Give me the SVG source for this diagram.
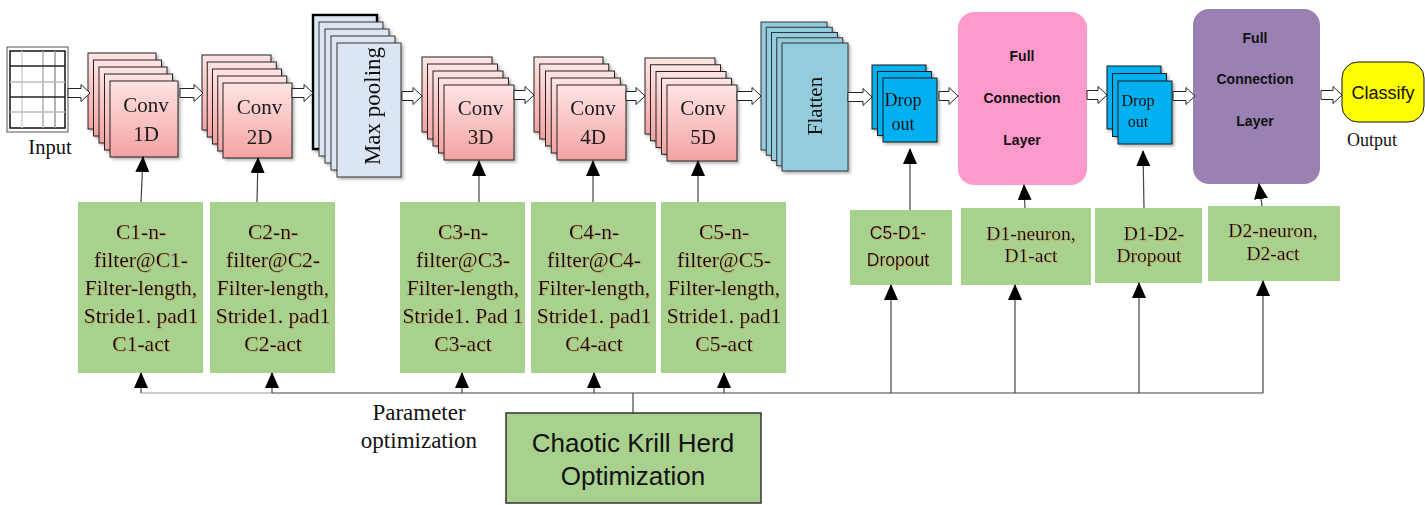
<svg xmlns="http://www.w3.org/2000/svg" width="1425" height="505" viewBox="0 0 1425 505">
<defs>
<linearGradient id="pink" x1="0" y1="0" x2="0" y2="1">
<stop offset="0" stop-color="#ffe4e4"/>
<stop offset="1" stop-color="#f4a2a2"/>
</linearGradient>
<filter id="sh" x="-10%" y="-10%" width="130%" height="130%">
<feDropShadow dx="2" dy="2" stdDeviation="1.5" flood-color="#000" flood-opacity="0.3"/>
</filter>
<filter id="ts" x="-5%" y="-20%" width="115%" height="150%">
<feDropShadow dx="0.8" dy="0.8" stdDeviation="0.4" flood-color="#c8954f" flood-opacity="0.85"/>
</filter>
<marker id="ah" markerUnits="userSpaceOnUse" markerWidth="16" markerHeight="14" refX="15" refY="7" orient="auto" viewBox="0 0 16 14">
<path d="M0,0 L16,7 L0,14 Z" fill="#000"/>
</marker>
<style>
.conv{fill:url(#pink);stroke:#222;stroke-width:1}
.mp{fill:#dce6f2;stroke:#333;stroke-width:1}
.fl{fill:#93cddd;stroke:#333;stroke-width:1}
.dr{fill:#00b0f0;stroke:#1a1a1a;stroke-width:1}
.green{fill:#a9d18e}
.blk{fill:#fff;stroke:#222;stroke-width:1}
.ln{stroke:#444;stroke-width:1.2;fill:none}
.up{stroke:#444;stroke-width:1.2;fill:none;marker-end:url(#ah)}
.serif{font-family:"Liberation Serif","Times New Roman",serif;fill:#111}
.sans{font-family:"Liberation Sans",Arial,sans-serif;fill:#111}
.gt{font-family:"Liberation Serif","Times New Roman",serif;font-size:21.5px;fill:#111;text-anchor:middle;filter:url(#ts)}
.ct{font-family:"Liberation Serif","Times New Roman",serif;font-size:21px;fill:#1a1a1a;text-anchor:middle}
.fc{font-family:"Liberation Sans",Arial,sans-serif;font-size:14px;font-weight:bold;fill:#111;text-anchor:middle}
</style>
</defs>
<rect width="1425" height="505" fill="#fff"/>

<g id="input">
<rect x="7" y="47" width="61" height="85" fill="#fff" stroke="#555" stroke-width="1"/>
<rect x="10" y="51" width="55" height="77" fill="#fff" stroke="#111" stroke-width="1.5"/>
<line x1="22" y1="51" x2="22" y2="128" stroke="#d0d0d0" stroke-width="1.5"/>
<line x1="43" y1="51" x2="43" y2="128" stroke="#b0b0b0" stroke-width="1.5"/>
<line x1="55" y1="51" x2="55" y2="128" stroke="#999" stroke-width="1.5"/>
<line x1="10" y1="66" x2="65" y2="66" stroke="#222" stroke-width="1.5"/>
<line x1="10" y1="82" x2="65" y2="82" stroke="#bbb" stroke-width="1.5"/>
<line x1="10" y1="97" x2="65" y2="97" stroke="#222" stroke-width="1.5"/>
<line x1="10" y1="112" x2="65" y2="112" stroke="#bbb" stroke-width="1.5"/>
<text class="serif" x="50" y="154" font-size="20.5" text-anchor="middle">Input</text>
</g>

<g id="conv1" filter="url(#sh)">
<rect class="conv" x="88" y="53" width="68" height="76"/>
<rect class="conv" x="93.5" y="60" width="68" height="76"/>
<rect class="conv" x="99" y="67" width="68" height="76"/>
<rect class="conv" x="104.5" y="74" width="68" height="76"/>
<rect class="conv" x="110" y="81" width="68" height="76"/>
<text class="ct" x="146" y="112">Conv</text>
<text class="ct" x="146" y="141">1D</text>
</g>

<g id="conv2" filter="url(#sh)">
<rect class="conv" x="202" y="55" width="69" height="75"/>
<rect class="conv" x="207.25" y="62" width="69" height="75"/>
<rect class="conv" x="212.5" y="69" width="69" height="75"/>
<rect class="conv" x="217.75" y="76" width="69" height="75"/>
<rect class="conv" x="223" y="83" width="69" height="75"/>
<text class="ct" x="259.5" y="114">Conv</text>
<text class="ct" x="259.5" y="144">2D</text>
</g>

<g id="maxpool" filter="url(#sh)">
<rect class="mp" x="313" y="15" width="64" height="134" style="stroke:#000;stroke-width:2.4"/>
<rect class="mp" x="319" y="22" width="64" height="134"/>
<rect class="mp" x="325" y="29" width="64" height="134"/>
<rect class="mp" x="331" y="36" width="64" height="134"/>
<rect class="mp" x="337" y="43" width="64" height="134"/>
<text class="serif" font-size="23" text-anchor="middle" transform="translate(380,106) rotate(-90)">Max pooling</text>
</g>

<g id="conv3" filter="url(#sh)">
<rect class="conv" x="422" y="57" width="70" height="75"/>
<rect class="conv" x="427.5" y="64" width="70" height="75"/>
<rect class="conv" x="433" y="71" width="70" height="75"/>
<rect class="conv" x="438.5" y="78" width="70" height="75"/>
<rect class="conv" x="444" y="85" width="70" height="75"/>
<text class="ct" x="480.5" y="115">Conv</text>
<text class="ct" x="480.5" y="144">3D</text>
</g>

<g id="conv4" filter="url(#sh)">
<rect class="conv" x="534" y="57" width="69" height="75"/>
<rect class="conv" x="539.75" y="64" width="69" height="75"/>
<rect class="conv" x="545.5" y="71" width="69" height="75"/>
<rect class="conv" x="551.25" y="78" width="69" height="75"/>
<rect class="conv" x="557" y="85" width="69" height="75"/>
<text class="ct" x="593" y="115">Conv</text>
<text class="ct" x="593" y="144">4D</text>
</g>

<g id="conv5" filter="url(#sh)">
<rect class="conv" x="645" y="58" width="70" height="76"/>
<rect class="conv" x="650.5" y="64.75" width="70" height="76"/>
<rect class="conv" x="656" y="71.5" width="70" height="76"/>
<rect class="conv" x="661.5" y="78.25" width="70" height="76"/>
<rect class="conv" x="667" y="85" width="70" height="76"/>
<text class="ct" x="703" y="115">Conv</text>
<text class="ct" x="703" y="144">5D</text>
</g>

<g id="flatten" filter="url(#sh)">
<rect class="fl" x="761" y="22" width="66" height="128"/>
<rect class="fl" x="766.25" y="27.25" width="66" height="128"/>
<rect class="fl" x="771.5" y="32.5" width="66" height="128"/>
<rect class="fl" x="776.75" y="37.75" width="66" height="128"/>
<rect class="fl" x="782" y="43" width="66" height="128"/>
<text class="serif" font-size="21" text-anchor="middle" transform="translate(822,106) rotate(-90)">Flatten</text>
</g>

<g id="dropout1" filter="url(#sh)">
<rect class="dr" x="872" y="65" width="54" height="64"/>
<rect class="dr" x="877.5" y="71.5" width="54" height="64"/>
<rect class="dr" x="883" y="78" width="54" height="64"/>
<text class="serif" x="903" y="106" font-size="18" text-anchor="middle">Drop</text>
<text class="serif" x="903" y="130" font-size="18" text-anchor="middle">out</text>
</g>

<g id="fc1">
<rect x="958" y="12" width="129" height="173" rx="16" fill="#fe9acb"/>
<text class="fc" x="1022" y="61">Full</text>
<text class="fc" x="1022" y="103">Connection</text>
<text class="fc" x="1022" y="145">Layer</text>
</g>

<g id="dropout2" filter="url(#sh)">
<rect class="dr" x="1107" y="66" width="54" height="63"/>
<rect class="dr" x="1112.5" y="73.5" width="54" height="63"/>
<rect class="dr" x="1118" y="81" width="54" height="63"/>
<text class="serif" x="1138" y="106" font-size="16" text-anchor="middle">Drop</text>
<text class="serif" x="1138" y="127" font-size="16" text-anchor="middle">out</text>
</g>

<g id="fc2">
<rect x="1193" y="9" width="127" height="175" rx="16" fill="#9a81b3"/>
<text class="fc" x="1255" y="43">Full</text>
<text class="fc" x="1255" y="84">Connection</text>
<text class="fc" x="1255" y="126">Layer</text>
</g>

<g id="classify">
<rect x="1342" y="62" width="82" height="60" rx="16" fill="#ffff00" stroke="#111" stroke-width="1"/>
<text class="sans" x="1383" y="99" font-size="18" text-anchor="middle" fill="#333">Classify</text>
<text class="serif" x="1372" y="146" font-size="18" text-anchor="middle">Output</text>
</g>

<g id="c1box">
<rect class="green" x="78" y="202" width="125" height="171"/>
<text class="gt" x="141" y="239">C1-n-</text>
<text class="gt" x="141" y="267">filter@C1-</text>
<text class="gt" x="141" y="295">Filter-length,</text>
<text class="gt" x="141" y="323">Stride1. pad1</text>
<text class="gt" x="141" y="351">C1-act</text>
</g>

<g id="c2box">
<rect class="green" x="210" y="202" width="125" height="171"/>
<text class="gt" x="273" y="239">C2-n-</text>
<text class="gt" x="273" y="267">filter@C2-</text>
<text class="gt" x="273" y="295">Filter-length,</text>
<text class="gt" x="273" y="323">Stride1. pad1</text>
<text class="gt" x="273" y="351">C2-act</text>
</g>

<g id="c3box">
<rect class="green" x="400" y="202" width="125" height="171"/>
<text class="gt" x="463" y="239">C3-n-</text>
<text class="gt" x="463" y="267">filter@C3-</text>
<text class="gt" x="463" y="295">Filter-length,</text>
<text class="gt" x="463" y="323">Stride1. Pad 1</text>
<text class="gt" x="463" y="351">C3-act</text>
</g>

<g id="c4box">
<rect class="green" x="531" y="202" width="125" height="171"/>
<text class="gt" x="594" y="239">C4-n-</text>
<text class="gt" x="594" y="267">filter@C4-</text>
<text class="gt" x="594" y="295">Filter-length,</text>
<text class="gt" x="594" y="323">Stride1. pad1</text>
<text class="gt" x="594" y="351">C4-act</text>
</g>

<g id="c5box">
<rect class="green" x="661" y="202" width="125" height="171"/>
<text class="gt" x="724" y="239">C5-n-</text>
<text class="gt" x="724" y="267">filter@C5-</text>
<text class="gt" x="724" y="295">Filter-length,</text>
<text class="gt" x="724" y="323">Stride1. pad1</text>
<text class="gt" x="724" y="351">C5-act</text>
</g>

<g id="c5d1box">
<rect class="green" x="850" y="210" width="102" height="75"/>
<text class="sans" x="898" y="239" font-size="17.5" text-anchor="middle" fill="#333" filter="url(#ts)">C5-D1-</text>
<text class="sans" x="898" y="266" font-size="17.5" text-anchor="middle" fill="#333" filter="url(#ts)">Dropout</text>
</g>

<g id="d1box">
<rect class="green" x="961" y="208" width="130" height="77"/>
<text class="gt" x="1031" y="240" style="font-size:19.5px">D1-neuron,</text>
<text class="gt" x="1031" y="262" style="font-size:19.5px">D1-act</text>
</g>

<g id="d1d2box">
<rect class="green" x="1095" y="208" width="107" height="75"/>
<text class="gt" x="1154" y="240" style="font-size:19.5px">D1-D2-</text>
<text class="gt" x="1149" y="262" style="font-size:19.5px">Dropout</text>
</g>

<g id="d2box">
<rect class="green" x="1208" y="206" width="132" height="75"/>
<text class="gt" x="1273" y="237" style="font-size:19.5px">D2-neuron,</text>
<text class="gt" x="1273" y="260" style="font-size:19.5px">D2-act</text>
</g>

<g id="ckho">
<rect x="506" y="413" width="255" height="90" fill="#a9d18e" stroke="#333" stroke-width="1.5"/>
<text class="sans" x="633" y="452" font-size="26" text-anchor="middle">Chaotic Krill Herd</text>
<text class="sans" x="633" y="485" font-size="26" text-anchor="middle">Optimization</text>
</g>

<g id="paramlabel">
<text class="serif" x="419" y="420" font-size="23" text-anchor="middle">Parameter</text>
<text class="serif" x="419" y="448" font-size="23" text-anchor="middle">optimization</text>
</g>

<g id="connectors">
<polygon class="blk" points="68,88.5 81,88.5 81,84.5 90,93 81,101.5 81,97.5 68,97.5"/>
<polygon class="blk" points="180,88.5 194,88.5 194,84.5 203,93 194,101.5 194,97.5 180,97.5"/>
<polygon class="blk" points="292,88.5 304,88.5 304,84.5 313,93 304,101.5 304,97.5 292,97.5"/>
<polygon class="blk" points="402,91.5 413,91.5 413,87.5 422,96 413,104.5 413,100.5 402,100.5"/>
<polygon class="blk" points="514,90.5 525,90.5 525,86.5 534,95 525,103.5 525,99.5 514,99.5"/>
<polygon class="blk" points="626,91.5 636,91.5 636,87.5 645,96 636,104.5 636,100.5 626,100.5"/>
<polygon class="blk" points="737,91.5 752,91.5 752,87.5 761,96 752,104.5 752,100.5 737,100.5"/>
<polygon class="blk" points="848,92.5 863,92.5 863,88.5 872,97 863,105.5 863,101.5 848,101.5"/>
<polygon class="blk" points="939,91.5 949,91.5 949,87.5 958,96 949,104.5 949,100.5 939,100.5"/>
<polygon class="blk" points="1087,90.5 1098,90.5 1098,86.5 1107,95 1098,103.5 1098,99.5 1087,99.5"/>
<polygon class="blk" points="1173,91.5 1186,91.5 1186,87.5 1195,96 1186,104.5 1186,100.5 1173,100.5"/>
<polygon class="blk" points="1321,90.5 1333,90.5 1333,86.5 1342,95 1333,103.5 1333,99.5 1321,99.5"/>

<line class="up" x1="141" y1="202" x2="143" y2="157"/>
<line class="up" x1="257" y1="202" x2="258" y2="158"/>
<line class="up" x1="479" y1="202" x2="479" y2="161"/>
<line class="up" x1="593" y1="202" x2="593" y2="161"/>
<line class="up" x1="698" y1="202" x2="698" y2="161"/>
<line class="up" x1="910" y1="210" x2="910" y2="149"/>
<line class="up" x1="1025" y1="208" x2="1024" y2="185"/>
<line class="up" x1="1144" y1="208" x2="1143" y2="151"/>
<line class="up" x1="1262" y1="206" x2="1259" y2="184"/>

<line class="ln" x1="141" y1="393" x2="272" y2="393" style="stroke:#999"/>
<line class="ln" x1="272" y1="393" x2="1263" y2="393"/>
<line class="ln" x1="633" y1="413" x2="633" y2="393"/>
<line class="up" x1="141" y1="393" x2="141" y2="373"/>
<line class="up" x1="272" y1="393" x2="272" y2="373"/>
<line class="up" x1="462" y1="393" x2="462" y2="373"/>
<line class="up" x1="594" y1="393" x2="594" y2="373"/>
<line class="up" x1="724" y1="393" x2="724" y2="373"/>
<line class="up" x1="891" y1="393" x2="891" y2="285"/>
<line class="up" x1="1015" y1="393" x2="1015" y2="285"/>
<line class="up" x1="1139" y1="393" x2="1139" y2="283"/>
<line class="up" x1="1263" y1="393" x2="1263" y2="281"/>
</g>
</svg>
